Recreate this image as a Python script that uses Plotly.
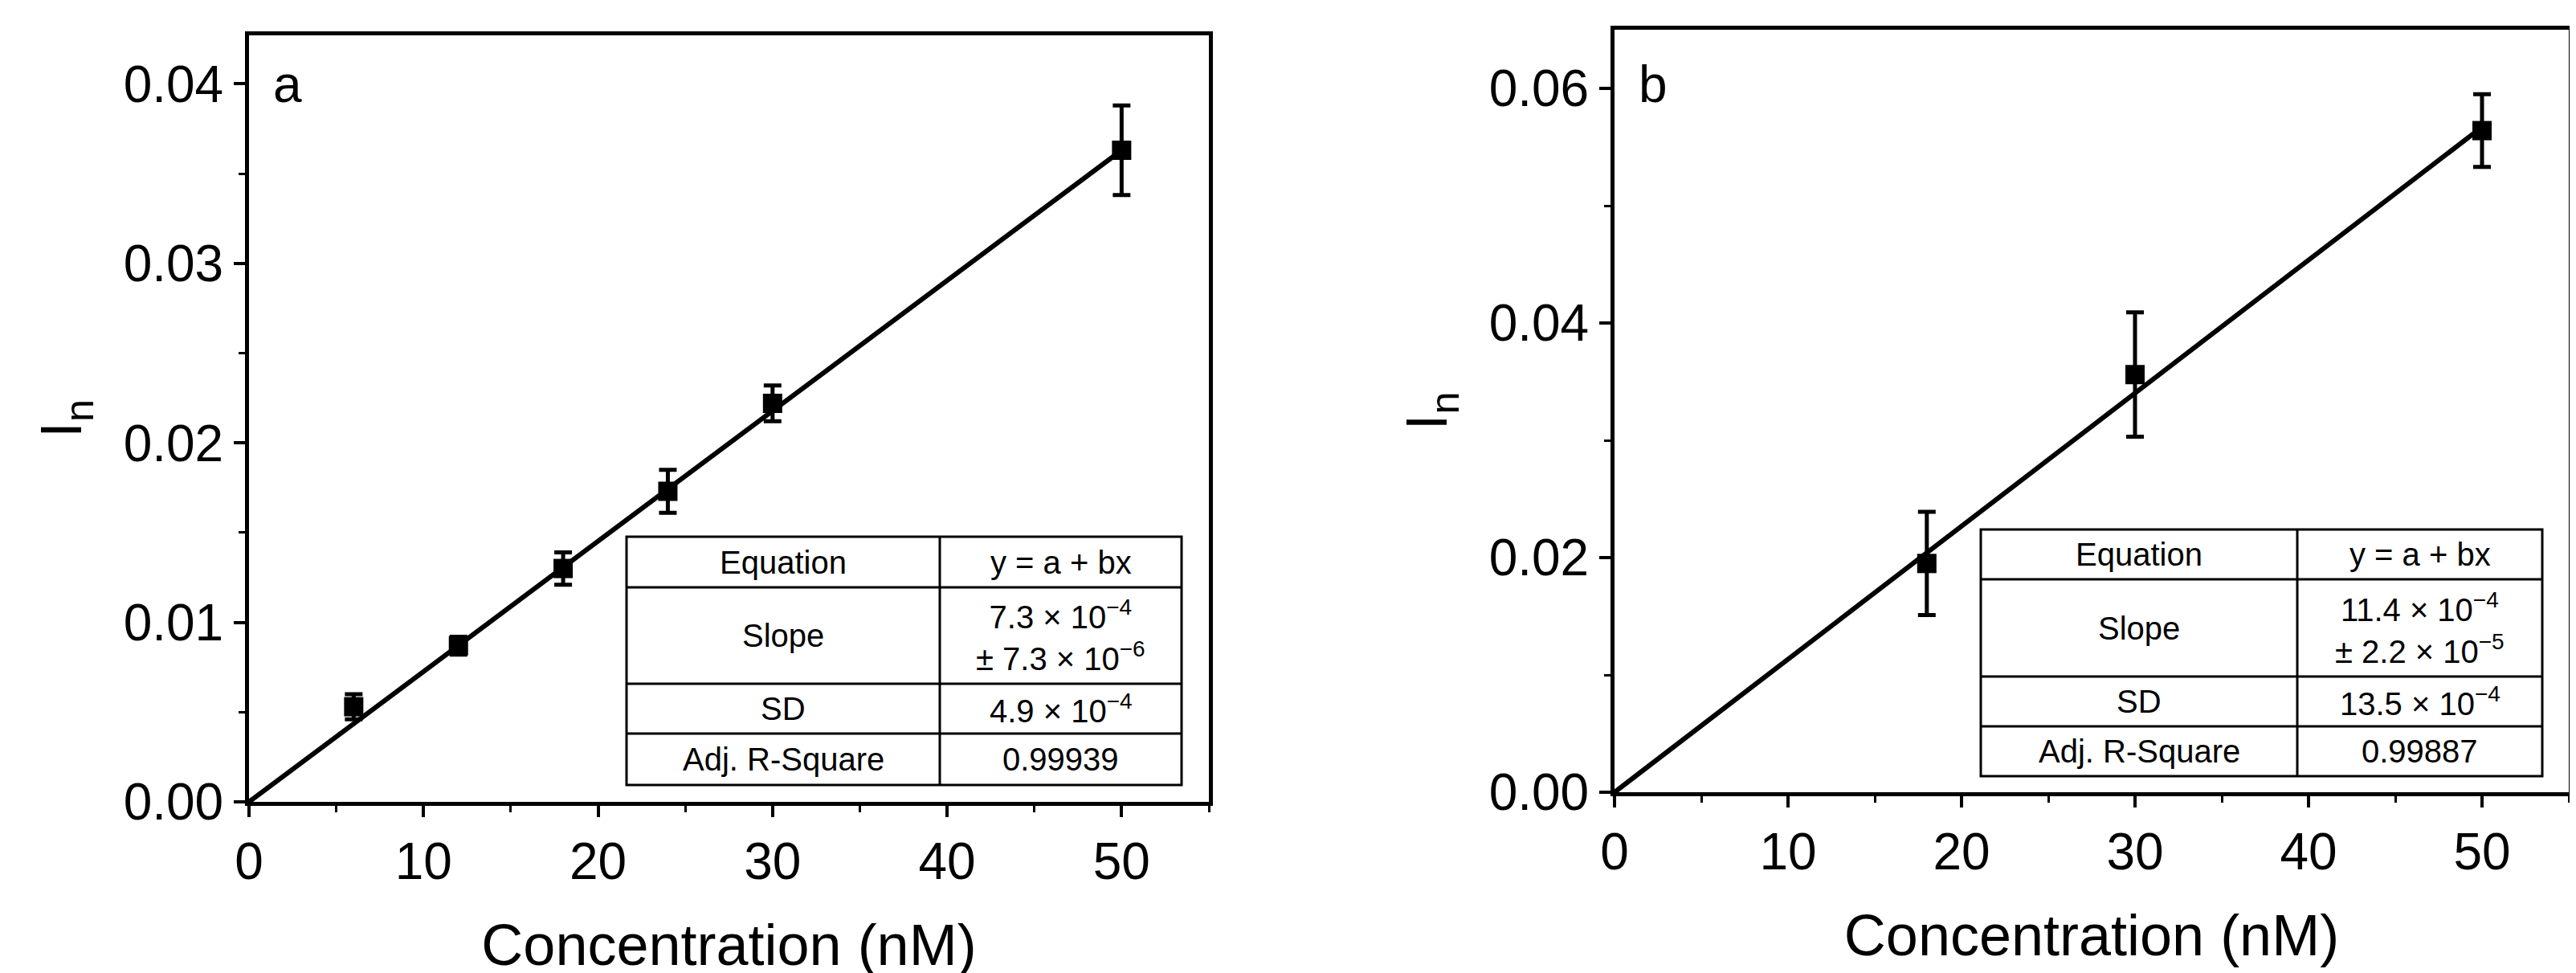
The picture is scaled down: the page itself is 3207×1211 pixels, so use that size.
import plotly.graph_objects as go

xa = [6, 12, 18, 24, 30, 50]
ya = [0.0053, 0.0087, 0.0130, 0.0173, 0.0222, 0.0363]
ea = [0.0007, 0.0005, 0.0009, 0.0012, 0.0010, 0.0025]
fit_xa = [0, 50]
fit_ya = [0, 0.0363]

xb = [18, 30, 50]
yb = [0.0195, 0.0356, 0.0564]
eb = [0.0044, 0.0053, 0.0031]
fit_xb = [0, 50]
fit_yb = [0, 0.0567]

table_a = [["Equation", "y = a + bx"],
           ["Slope", "7.3 × 10<sup>−4</sup><br>± 7.3 × 10<sup>−6</sup>"],
           ["SD", "4.9 × 10<sup>−4</sup>"],
           ["Adj. R-Square", "0.99939"]]
table_b = [["Equation", "y = a + bx"],
           ["Slope", "11.4 × 10<sup>−4</sup><br>± 2.2 × 10<sup>−5</sup>"],
           ["SD", "13.5 × 10<sup>−4</sup>"],
           ["Adj. R-Square", "0.99887"]]

W, H = 3207, 1211
L, R, T, B = 302, 12, 29, 221
PW, PH = W - L - R, H - T - B
def px(x): return (x - L) / PW
def py(y): return (H - B - y) / PH

FONT = "Liberation Sans"
fig = go.Figure()
for (x, y, e, fx, fy, ax) in [(xa, ya, ea, fit_xa, fit_ya, ""), (xb, yb, eb, fit_xb, fit_yb, "2")]:
    fig.add_trace(go.Scatter(x=fx, y=fy, mode="lines", line=dict(color="black", width=6),
                             xaxis="x" + ax, yaxis="y" + ax, showlegend=False))
    fig.add_trace(go.Scatter(x=x, y=y, mode="markers", marker=dict(symbol="square", size=24, color="black"),
                             error_y=dict(type="data", array=e, color="black", thickness=5, width=11),
                             xaxis="x" + ax, yaxis="y" + ax, showlegend=False))

axis_common = dict(showline=True, linewidth=5, linecolor="black", mirror=True, ticks="outside",
                   ticklen=14, tickwidth=4, tickcolor="black", showgrid=False, zeroline=False,
                   tickfont=dict(family=FONT, size=64, color="black"),
                   minor=dict(ticks="outside", ticklen=8, tickwidth=3, tickcolor="black"))
title_font = dict(family=FONT, size=72, color="black")

fig.update_layout(
    width=W, height=H, plot_bgcolor="white", paper_bgcolor="white",
    margin=dict(l=L, r=R, t=T, b=B),
    xaxis=dict(axis_common, domain=[px(302), px(1497)], range=[0, 55], dtick=10,
               minor=dict(axis_common["minor"], dtick=5),
               title=dict(text="Concentration (nM)", font=title_font, standoff=45), anchor="y"),
    yaxis=dict(axis_common, domain=[py(990), py(36)], range=[0, 0.0427], dtick=0.01, tickformat=".2f",
               minor=dict(axis_common["minor"], dtick=0.005),
               title=dict(text="I<sub>n</sub>", font=title_font, standoff=30), anchor="x"),
    xaxis2=dict(axis_common, domain=[px(2002), px(3190)], range=[0, 55], dtick=10,
                minor=dict(axis_common["minor"], dtick=5),
                title=dict(text="Concentration (nM)", font=title_font, standoff=45), anchor="y2"),
    yaxis2=dict(axis_common, domain=[py(978), py(29)], range=[0, 0.065], dtick=0.02, tickformat=".2f",
                minor=dict(axis_common["minor"], dtick=0.01),
                title=dict(text="I<sub>n</sub>", font=title_font, standoff=30), anchor="x2"),
)

fig.add_annotation(text="a", x=px(330), y=py(97), xref="paper", yref="paper", showarrow=False,
                   xanchor="left", yanchor="middle", font=dict(family=FONT, size=64, color="black"))
fig.add_annotation(text="b", x=px(2030), y=py(97), xref="paper", yref="paper", showarrow=False,
                   xanchor="left", yanchor="middle", font=dict(family=FONT, size=64, color="black"))

def draw_table(tab, x0, xm, x1, rows):
    fig.add_shape(type="rect", xref="paper", yref="paper", x0=px(x0), x1=px(x1), y0=py(rows[-1]), y1=py(rows[0]),
                  line=dict(color="black", width=3), fillcolor="white", layer="above")
    fig.add_shape(type="line", xref="paper", yref="paper", x0=px(xm), x1=px(xm), y0=py(rows[-1]), y1=py(rows[0]),
                  line=dict(color="black", width=3))
    for r in rows[1:-1]:
        fig.add_shape(type="line", xref="paper", yref="paper", x0=px(x0), x1=px(x1), y0=py(r), y1=py(r),
                      line=dict(color="black", width=3))
    for i, (c1, c2) in enumerate(tab):
        yc = py((rows[i] + rows[i + 1]) / 2)
        for txt, xc in [(c1, (x0 + xm) / 2), (c2, (xm + x1) / 2)]:
            fig.add_annotation(text=txt, x=px(xc), y=yc, xref="paper", yref="paper", showarrow=False,
                               xanchor="center", yanchor="middle",
                               font=dict(family=FONT, size=40, color="black"))

draw_table(table_a, 772, 1162, 1463, [660, 723, 843, 905, 969])
draw_table(table_b, 2458, 2852, 3157, [651, 713, 834, 896, 958])

fig.write_html("out.html")
